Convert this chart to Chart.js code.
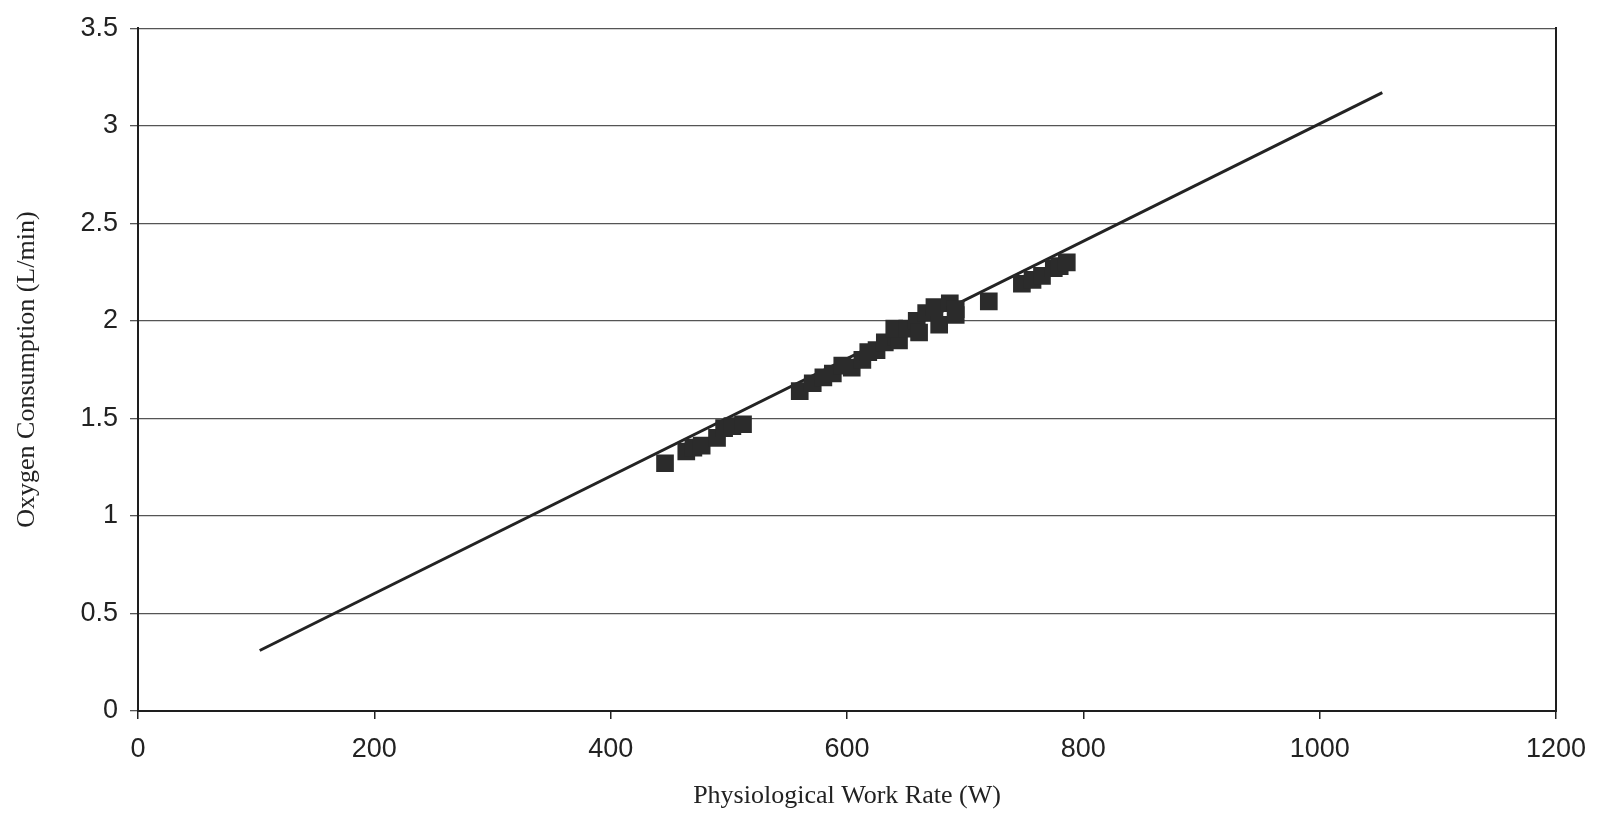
<!DOCTYPE html>
<html>
<head>
<meta charset="utf-8">
<script src="https://cdn.jsdelivr.net/npm/chart.js@4/dist/chart.umd.min.js"></script>
<style>
  html, body { margin: 0; padding: 0; background: #ffffff; }
  #wrap { width: 1619px; height: 817px; position: relative; }
</style>
</head>
<body>
<div id="wrap"><canvas id="c"></canvas></div>
<script>
// Measured points: physiological work rate (W) vs oxygen consumption (L/min)
const workRate = [446, 464, 470, 477, 490, 496, 503, 512,
                  560, 571, 580, 588, 596, 604, 613, 618, 625, 632, 642, 644, 640, 651,
                  659, 661, 667, 674, 678, 687, 692, 692,
                  720, 748, 757, 765, 775, 780, 786];
const oxygen   = [1.27, 1.33, 1.35, 1.36, 1.40, 1.45, 1.46, 1.47,
                  1.64, 1.68, 1.71, 1.73, 1.77, 1.76, 1.80, 1.84, 1.85, 1.89, 1.92, 1.90, 1.96, 1.96,
                  2.00, 1.94, 2.04, 2.07, 1.98, 2.09, 2.03, 2.06,
                  2.10, 2.19, 2.21, 2.23, 2.27, 2.28, 2.30];
// Fitted line end points
const lineX = [103, 1053];
const lineY = [0.31, 3.17];
// Tick labels
const xTickLabels = ['0', '200', '400', '600', '800', '1000', '1200'];
const yTickLabels = ['0', '0.5', '1', '1.5', '2', '2.5', '3', '3.5'];

const xTickVals = xTickLabels.map(Number);
const yTickVals = yTickLabels.map(Number);

const points = workRate.map((x, i) => ({x: x, y: oxygen[i]}));
const linePts = lineX.map((x, i) => ({x: x, y: lineY[i]}));

const tickFont = {family: '"Liberation Sans", Arial, sans-serif', size: 27};
const titleFont = {family: '"Liberation Serif", "Times New Roman", serif', size: 26};

new Chart(document.getElementById('c'), {
  type: 'scatter',
  data: {
    datasets: [
      {
        label: 'Fit',
        data: linePts,
        showLine: true,
        borderColor: '#232323',
        borderWidth: 3,
        pointRadius: 0,
        pointHoverRadius: 0,
        fill: false,
        order: 2
      },
      {
        label: 'Observed',
        data: points,
        pointStyle: 'rect',
        pointRadius: 12.5,
        pointHoverRadius: 12.5,
        backgroundColor: '#2b2b2b',
        borderColor: '#2b2b2b',
        borderWidth: 0,
        order: 1
      }
    ]
  },
  options: {
    responsive: true,
    maintainAspectRatio: false,
    animation: false,
    devicePixelRatio: 1,
    layout: { padding: { top: 23, right: 63, left: 0, bottom: 0 } },
    plugins: {
      legend: { display: false },
      tooltip: { enabled: false },
      title: { display: false }
    },
    scales: {
      x: {
        type: 'linear',
        position: 'bottom',
        min: 0,
        max: 1200,
        afterBuildTicks: (s) => { s.ticks = xTickVals.map(v => ({value: v})); },
        ticks: {
          color: '#222222',
          font: tickFont,
          padding: 14,
          maxRotation: 0,
          autoSkip: false,
          callback: (v) => { const i = xTickVals.indexOf(v); return i >= 0 ? xTickLabels[i] : ''; }
        },
        grid: {
          display: true,
          drawOnChartArea: false,
          drawTicks: true,
          tickLength: 8,
          color: '#222222',
          lineWidth: 1.5
        },
        border: { display: true, color: '#1e1e1e', width: 2 },
        title: {
          display: true,
          text: 'Physiological Work Rate (W)',
          color: '#222222',
          font: titleFont,
          padding: { top: 0, bottom: 5 }
        },
        afterFit: (s) => { s.height = 106; }
      },
      y: {
        type: 'linear',
        position: 'left',
        min: 0,
        max: 3.5,
        afterBuildTicks: (s) => { s.ticks = yTickVals.map(v => ({value: v})); },
        ticks: {
          color: '#222222',
          font: tickFont,
          padding: 12,
          autoSkip: false,
          callback: (v) => { const i = yTickVals.indexOf(v); return i >= 0 ? yTickLabels[i] : ''; }
        },
        grid: {
          display: true,
          drawOnChartArea: true,
          drawTicks: true,
          tickLength: 8,
          color: '#555555',
          lineWidth: 1.3
        },
        border: { display: true, color: '#1e1e1e', width: 2 },
        title: {
          display: true,
          text: 'Oxygen Consumption (L/min)',
          color: '#222222',
          font: titleFont,
          padding: { top: 12, bottom: 0 }
        },
        afterFit: (s) => { s.width = 138; }
      },
      y2: {
        type: 'linear',
        position: 'right',
        min: 0,
        max: 3.5,
        ticks: { display: false },
        grid: { display: false, drawTicks: false },
        border: { display: true, color: '#1e1e1e', width: 2 },
        afterFit: (s) => { s.width = 0; }
      }
    }
  }
});
</script>
</body>
</html>
